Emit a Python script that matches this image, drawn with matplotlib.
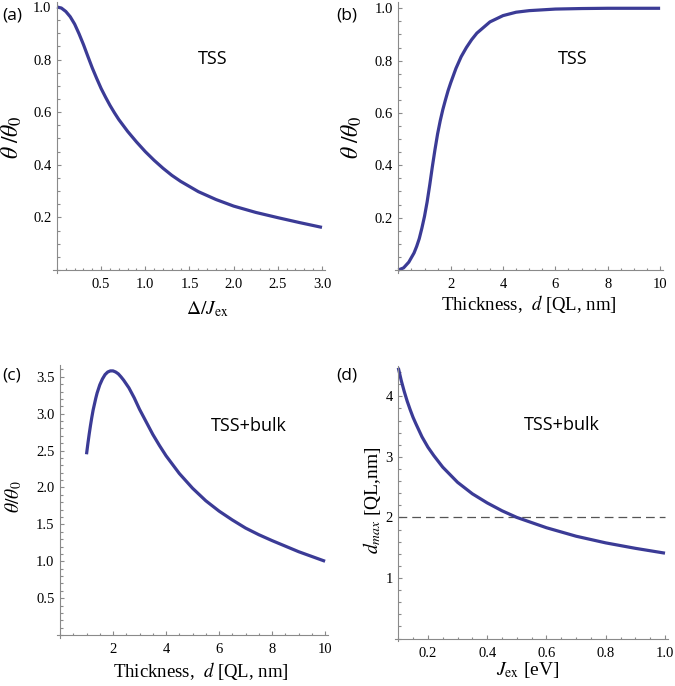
import matplotlib
matplotlib.use('Agg')
import matplotlib.pyplot as plt
from matplotlib.ticker import MultipleLocator, FixedLocator

plt.rcParams['font.family'] = ['Liberation Serif', 'DejaVu Serif']
plt.rcParams['mathtext.fontset'] = 'stix'

# (a) theta/theta0 vs Delta/Jex (TSS)
ratio_a = [0, 0.05, 0.1, 0.15, 0.2, 0.25, 0.3, 0.35, 0.4, 0.45, 0.5, 0.55,
           0.6, 0.65, 0.7, 0.8, 0.9, 1.0, 1.1, 1.2, 1.3, 1.4, 1.6, 1.8, 2.0,
           2.25, 2.5, 2.75, 3.0]
theta_a = [1.0, 0.996, 0.983, 0.963, 0.935, 0.898, 0.857, 0.812, 0.768,
           0.728, 0.69, 0.657, 0.626, 0.598, 0.572, 0.527, 0.487, 0.45,
           0.417, 0.387, 0.36, 0.337, 0.298, 0.268, 0.243, 0.219, 0.199,
           0.18, 0.162]

# (b) theta/theta0 vs thickness (TSS)
thick_b = [0, 0.2, 0.4, 0.6, 0.7, 0.8, 0.9, 1.0, 1.1, 1.2, 1.3, 1.4, 1.5,
           1.6, 1.7, 1.8, 1.9, 2.0, 2.2, 2.4, 2.6, 2.8, 3.0, 3.5, 4.0, 4.5,
           5.0, 6.0, 7.0, 8.0, 10.0]
theta_b = [0, 0.008, 0.03, 0.065, 0.09, 0.12, 0.16, 0.205, 0.26, 0.325,
           0.395, 0.46, 0.52, 0.57, 0.613, 0.65, 0.685, 0.715, 0.77, 0.815,
           0.85, 0.88, 0.905, 0.948, 0.972, 0.985, 0.991, 0.997, 0.999,
           1.0, 1.0]

# (c) theta/theta0 vs thickness (TSS+bulk)
thick_c = [1.0, 1.05, 1.1, 1.15, 1.2, 1.25, 1.3, 1.35, 1.4, 1.5, 1.6, 1.7,
           1.8, 1.9, 2.0, 2.1, 2.2, 2.3, 2.4, 2.6, 2.8, 3.0, 3.25, 3.5, 3.75,
           4.0, 4.5, 5.0, 5.5, 6.0, 6.5, 7.0, 7.5, 8.0, 8.5, 9.0, 9.5, 10.0]
theta_c = [2.45, 2.59, 2.72, 2.84, 2.95, 3.05, 3.13, 3.21, 3.28, 3.39, 3.47,
           3.53, 3.565, 3.58, 3.58, 3.565, 3.54, 3.5, 3.455, 3.35, 3.215,
           3.06, 2.89, 2.72, 2.57, 2.43, 2.19, 1.99, 1.82, 1.68, 1.56, 1.45,
           1.36, 1.28, 1.205, 1.13, 1.065, 1.0]

# (d) d_max vs Jex (TSS+bulk)
jex_d = [0.1, 0.11, 0.12, 0.13, 0.14, 0.15, 0.16, 0.18, 0.2, 0.22, 0.25,
         0.3, 0.35, 0.4, 0.45, 0.5, 0.6, 0.7, 0.8, 0.9, 1.0]
dmax_d = [4.47, 4.26, 4.08, 3.92, 3.78, 3.65, 3.54, 3.33, 3.16, 3.02, 2.83,
          2.58, 2.39, 2.24, 2.11, 2.0, 1.83, 1.69, 1.58, 1.49, 1.41]
dmax_ref = 2.0

line_col = '#3b3b96'
axis_col = '#8a8a8a'


def mma_axes(ax, x0, y0, xmaj, xmin, ymaj, ymin):
    # Mathematica-like axes crossing at (x0, y0)
    for s in ['top', 'right']:
        ax.spines[s].set_visible(False)
    ax.spines['left'].set_position(('data', x0))
    ax.spines['bottom'].set_position(('data', y0))
    for s in ['left', 'bottom']:
        ax.spines[s].set_color(axis_col)
        ax.spines[s].set_linewidth(0.8)
    ax.xaxis.set_major_locator(FixedLocator(xmaj))
    ax.yaxis.set_major_locator(FixedLocator(ymaj))
    ax.xaxis.set_minor_locator(MultipleLocator(xmin))
    ax.yaxis.set_minor_locator(MultipleLocator(ymin))
    ax.tick_params(which='both', direction='in', color=axis_col, width=0.8,
                   labelsize=10.5, labelcolor='black')
    ax.tick_params(which='major', length=3.2)
    ax.tick_params(which='minor', length=1.8)
    ax.tick_params(axis='x', pad=6)
    ax.tick_params(axis='y', pad=4)
    ax.patch.set_alpha(0)


fig = plt.figure(figsize=(6.75, 6.86), dpi=100)

# (a)
ax = fig.add_axes([53 / 675, 1 - 273 / 686, 272 / 675, 271 / 686])
ax.plot(ratio_a, theta_a, color=line_col, lw=2.3, solid_capstyle='butt')
ax.set_xlim(-0.045, 3.034)
ax.set_ylim(-0.0114, 1.019)
mma_axes(ax, 0, 0, [0.5, 1.0, 1.5, 2.0, 2.5, 3.0], 0.1,
         [0.2, 0.4, 0.6, 0.8, 1.0], 0.05)
ax.xaxis.set_major_formatter(lambda v, p: f'{v:.1f}')
ax.yaxis.set_major_formatter(lambda v, p: f'{v:.1f}')

# (b)
bx = fig.add_axes([395 / 675, 1 - 273 / 686, 268 / 675, 271 / 686])
bx.plot(thick_b, theta_b, color=line_col, lw=2.3, solid_capstyle='butt')
bx.set_xlim(-0.127, 10.11)
bx.set_ylim(-0.0115, 1.024)
mma_axes(bx, 0, 0, [2, 4, 6, 8, 10], 0.5, [0.2, 0.4, 0.6, 0.8, 1.0], 0.05)
bx.yaxis.set_major_formatter(lambda v, p: f'{v:.1f}')

# (c)
cx = fig.add_axes([57 / 675, 1 - 638 / 686, 271 / 675, 273 / 686])
cx.plot(thick_c, theta_c, color=line_col, lw=2.3, solid_capstyle='butt')
cx.set_xlim(-0.113, 10.11)
cx.set_ylim(-0.04, 3.66)
mma_axes(cx, 0, 0, [2, 4, 6, 8, 10], 0.5,
         [0.5, 1.0, 1.5, 2.0, 2.5, 3.0, 3.5], 0.1)
cx.yaxis.set_major_formatter(lambda v, p: f'{v:.1f}')

# (d)
dx = fig.add_axes([395 / 675, 1 - 641 / 686, 273 / 675, 275 / 686])
dx.plot([jex_d[0], jex_d[-1]], [dmax_ref, dmax_ref], color='#555555',
        lw=0.9, dashes=(7, 4))
dx.plot(jex_d, dmax_d, color=line_col, lw=2.3, solid_capstyle='butt')
dx.set_xlim(0.0889, 1.0101)
dx.set_ylim(-0.04, 4.5)
mma_axes(dx, 0.1, 0, [0.2, 0.4, 0.6, 0.8, 1.0], 0.05, [1, 2, 3, 4], 0.2)
dx.xaxis.set_major_formatter(lambda v, p: f'{v:.1f}')
dx.yaxis.set_major_formatter(lambda v, p: f'{v:.0f}')

# panel letters and annotations
sans = ['Open Sans', 'DejaVu Sans']
for lab, px, py in [('(a)', 2, 16), ('(b)', 336, 16), ('(c)', 2, 376),
                    ('(d)', 336, 375)]:
    fig.text(px / 675, 1 - py / 686, lab, family=sans, fontsize=12.5,
             ha='left', va='center')
for lab, px, py in [('TSS', 213, 59), ('TSS', 573, 59),
                    ('TSS+bulk', 249, 426), ('TSS+bulk', 562, 425)]:
    fig.text(px / 675, 1 - py / 686, lab, family=sans, fontsize=13,
             ha='center', va='center')

# axis labels
fig.text(12 / 675, 1 - 137 / 686, r'$\theta\;/\theta_0$', fontsize=17,
         rotation=90, ha='center', va='center')
fig.text(352 / 675, 1 - 137 / 686, r'$\theta\;/\theta_0$', fontsize=17,
         rotation=90, ha='center', va='center')
fig.text(14 / 675, 1 - 497 / 686, r'$\theta/\theta_0$', fontsize=14,
         rotation=90, ha='center', va='center')
fig.text(372 / 675, 1 - 500 / 686, r'$d_{max}$ [QL,nm]', fontsize=14,
         rotation=90, ha='center', va='center')

fig.text(207 / 675, 1 - 309 / 686, r'$\Delta/J_{\rm ex}$', fontsize=14,
         ha='center', va='center')
fig.text(529 / 675, 1 - 304 / 686, r'Thickness,  $d$ [QL, nm]', fontsize=13.5,
         ha='center', va='center')
fig.text(201 / 675, 1 - 671 / 686, r'Thickness,  $d$ [QL, nm]', fontsize=13.5,
         ha='center', va='center')
fig.text(528 / 675, 1 - 670 / 686, r'$J_{\rm ex}$ [eV]', fontsize=14,
         ha='center', va='center')

fig.savefig('out.png', dpi=100)
